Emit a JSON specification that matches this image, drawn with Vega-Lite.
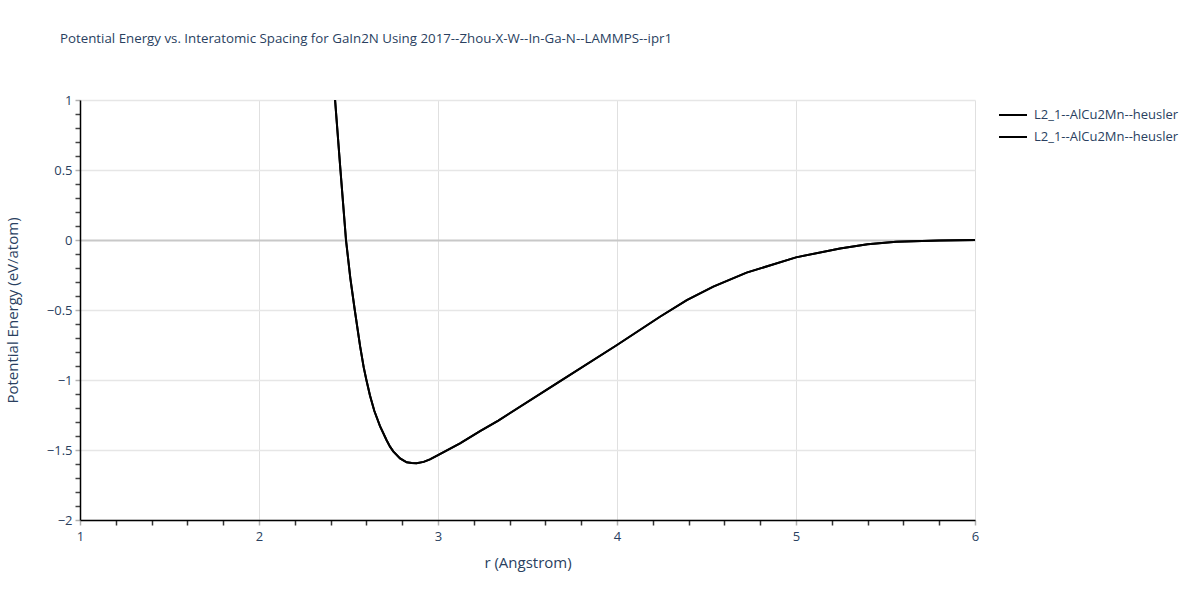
{
  "$schema": "https://vega.github.io/schema/vega-lite/v6.json",
  "autosize": "none",
  "width": 895,
  "height": 420,
  "padding": {"left": 80, "top": 100, "right": 225, "bottom": 80},
  "background": "white",
  "config": {
    "font": "Open Sans",
    "view": {"stroke": null},
    "axis": {"labelColor": "#2a3f5f", "titleColor": "#2a3f5f", "labelFont": "Open Sans", "titleFont": "Open Sans", "titleFontWeight": "normal", "labelFontSize": 12, "titleFontSize": 14}
  },
  "title": {
    "text": "Potential Energy vs. Interatomic Spacing for GaIn2N Using 2017--Zhou-X-W--In-Ga-N--LAMMPS--ipr1",
    "anchor": "start",
    "frame": "group",
    "dx": -20,
    "offset": 49,
    "fontSize": 13.3,
    "fontWeight": "normal",
    "color": "#2a3f5f",
    "font": "Open Sans"
  },
  "data": {
    "values": [
      {"s": "a", "r": 2.425, "e": 1.0},
      {"s": "a", "r": 2.455, "e": 0.5},
      {"s": "a", "r": 2.486, "e": 0.0},
      {"s": "a", "r": 2.51, "e": -0.27},
      {"s": "a", "r": 2.535, "e": -0.5},
      {"s": "a", "r": 2.565, "e": -0.76},
      {"s": "a", "r": 2.585, "e": -0.91},
      {"s": "a", "r": 2.6, "e": -1.0},
      {"s": "a", "r": 2.62, "e": -1.11},
      {"s": "a", "r": 2.644, "e": -1.22},
      {"s": "a", "r": 2.676, "e": -1.33},
      {"s": "a", "r": 2.713, "e": -1.43},
      {"s": "a", "r": 2.732, "e": -1.476},
      {"s": "a", "r": 2.75, "e": -1.51},
      {"s": "a", "r": 2.788, "e": -1.56},
      {"s": "a", "r": 2.825, "e": -1.588},
      {"s": "a", "r": 2.853, "e": -1.593},
      {"s": "a", "r": 2.88, "e": -1.594},
      {"s": "a", "r": 2.92, "e": -1.585},
      {"s": "a", "r": 2.955, "e": -1.567},
      {"s": "a", "r": 3.0, "e": -1.536},
      {"s": "a", "r": 3.123, "e": -1.452},
      {"s": "a", "r": 3.235, "e": -1.365},
      {"s": "a", "r": 3.337, "e": -1.29},
      {"s": "a", "r": 3.663, "e": -1.024},
      {"s": "a", "r": 4.0, "e": -0.75},
      {"s": "a", "r": 4.24, "e": -0.548},
      {"s": "a", "r": 4.39, "e": -0.429},
      {"s": "a", "r": 4.538, "e": -0.333},
      {"s": "a", "r": 4.724, "e": -0.233},
      {"s": "a", "r": 5.0, "e": -0.124},
      {"s": "a", "r": 5.246, "e": -0.06},
      {"s": "a", "r": 5.4, "e": -0.03},
      {"s": "a", "r": 5.56, "e": -0.013},
      {"s": "a", "r": 5.8, "e": -0.003},
      {"s": "a", "r": 6.0, "e": 0.0},
      {"s": "b", "r": 2.425, "e": 1.0},
      {"s": "b", "r": 2.455, "e": 0.5},
      {"s": "b", "r": 2.486, "e": 0.0},
      {"s": "b", "r": 2.51, "e": -0.27},
      {"s": "b", "r": 2.535, "e": -0.5},
      {"s": "b", "r": 2.565, "e": -0.76},
      {"s": "b", "r": 2.585, "e": -0.91},
      {"s": "b", "r": 2.6, "e": -1.0},
      {"s": "b", "r": 2.62, "e": -1.11},
      {"s": "b", "r": 2.644, "e": -1.22},
      {"s": "b", "r": 2.676, "e": -1.33},
      {"s": "b", "r": 2.713, "e": -1.43},
      {"s": "b", "r": 2.732, "e": -1.476},
      {"s": "b", "r": 2.75, "e": -1.51},
      {"s": "b", "r": 2.788, "e": -1.56},
      {"s": "b", "r": 2.825, "e": -1.588},
      {"s": "b", "r": 2.853, "e": -1.593},
      {"s": "b", "r": 2.88, "e": -1.594},
      {"s": "b", "r": 2.92, "e": -1.585},
      {"s": "b", "r": 2.955, "e": -1.567},
      {"s": "b", "r": 3.0, "e": -1.536},
      {"s": "b", "r": 3.123, "e": -1.452},
      {"s": "b", "r": 3.235, "e": -1.365},
      {"s": "b", "r": 3.337, "e": -1.29},
      {"s": "b", "r": 3.663, "e": -1.024},
      {"s": "b", "r": 4.0, "e": -0.75},
      {"s": "b", "r": 4.24, "e": -0.548},
      {"s": "b", "r": 4.39, "e": -0.429},
      {"s": "b", "r": 4.538, "e": -0.333},
      {"s": "b", "r": 4.724, "e": -0.233},
      {"s": "b", "r": 5.0, "e": -0.124},
      {"s": "b", "r": 5.246, "e": -0.06},
      {"s": "b", "r": 5.4, "e": -0.03},
      {"s": "b", "r": 5.56, "e": -0.013},
      {"s": "b", "r": 5.8, "e": -0.003},
      {"s": "b", "r": 6.0, "e": 0.0}
    ]
  },
  "mark": {"type": "line", "strokeWidth": 2, "clip": true},
  "encoding": {
    "x": {
      "field": "r", "type": "quantitative",
      "scale": {"domain": [1, 6], "nice": false, "zero": false},
      "axis": {
        "title": "r (Angstrom)",
        "format": "~g",
        "values": [1, 1.2, 1.4, 1.6, 1.8, 2, 2.2, 2.4, 2.6, 2.8, 3, 3.2, 3.4, 3.6, 3.8, 4, 4.2, 4.4, 4.6, 4.8, 5, 5.2, 5.4, 5.6, 5.8, 6],
        "labelExpr": "abs(datum.value - round(datum.value)) < 1e-6 ? datum.label : ''",
        "domainColor": "#000000",
        "domainWidth": 1.5,
        "grid": true,
        "gridColor": "#e0e0e0",
        "gridOpacity": {"condition": {"test": "abs(datum.value - round(datum.value)) < 1e-6", "value": 1}, "value": 0},
        "tickColor": {"condition": {"test": "abs(datum.value - round(datum.value)) < 1e-6", "value": "#b0b0b0"}, "value": "#333333"},
        "tickSize": 5,
        "tickWidth": 1.5,
        "labelPadding": 5,
        "labelFontSize": 13,
        "titlePadding": 12,
        "titleFontSize": 15,
        "labelFlush": false,
        "labelOverlap": false
      }
    },
    "y": {
      "field": "e", "type": "quantitative",
      "scale": {"domain": [-2, 1], "nice": false, "zero": false},
      "axis": {
        "title": "Potential Energy (eV/atom)",
        "format": "~g",
        "values": [-2, -1.9, -1.8, -1.7, -1.6, -1.5, -1.4, -1.3, -1.2, -1.1, -1, -0.9, -0.8, -0.7, -0.6, -0.5, -0.4, -0.3, -0.2, -0.1, 0, 0.1, 0.2, 0.3, 0.4, 0.5, 0.6, 0.7, 0.8, 0.9, 1],
        "labelExpr": "abs(datum.value * 2 - round(datum.value * 2)) < 1e-6 ? datum.label : ''",
        "domainColor": "#000000",
        "domainWidth": 1.5,
        "grid": true,
        "gridColor": {"condition": {"test": "abs(datum.value) < 1e-6", "value": "#c8c8c8"}, "value": "#e6e6e6"},
        "gridWidth": {"condition": {"test": "abs(datum.value) < 1e-6", "value": 2}, "value": 1.5},
        "gridOpacity": {"condition": {"test": "abs(datum.value * 2 - round(datum.value * 2)) < 1e-6", "value": 1}, "value": 0},
        "tickColor": {"condition": {"test": "abs(datum.value * 2 - round(datum.value * 2)) < 1e-6", "value": "#b0b0b0"}, "value": "#444444"},
        "tickSize": 5,
        "tickWidth": 1.5,
        "labelPadding": 3,
        "labelFontSize": 13,
        "titlePadding": 26,
        "titleFontSize": 15,
        "labelFlush": false,
        "labelOverlap": false
      }
    },
    "color": {
      "field": "s", "type": "nominal",
      "scale": {"domain": ["a", "b"], "range": ["#000000", "#000000"]},
      "legend": {
        "title": null,
        "orient": "none",
        "legendX": 918,
        "legendY": 0,
        "symbolType": "stroke",
        "symbolSize": 784,
        "symbolStrokeWidth": 2,
        "labelExpr": "'L2_1--AlCu2Mn--heusler'",
        "labelColor": "#2a3f5f",
        "labelFontSize": 13,
        "labelFont": "Open Sans",
        "rowPadding": -7,
        "labelOffset": 6
      }
    }
  }
}
